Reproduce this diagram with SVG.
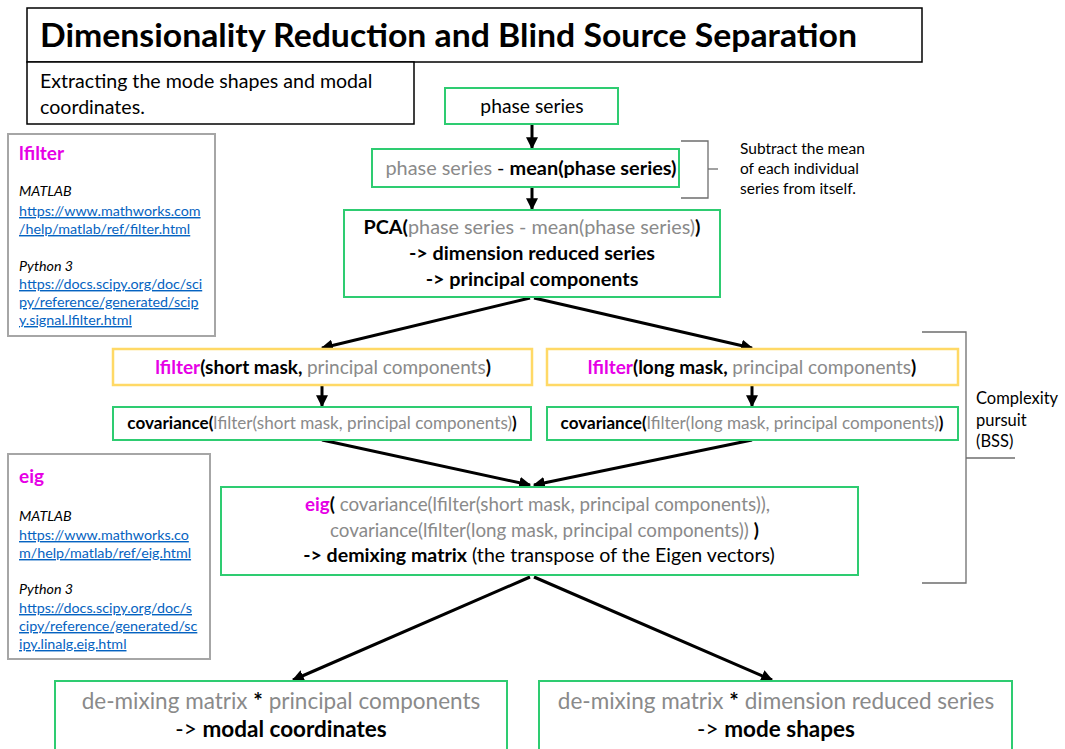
<svg xmlns="http://www.w3.org/2000/svg" width="1065" height="749" viewBox="0 0 1065 749">
  <style>
    text { font-family: Lato, "Open Sans", sans-serif; fill: #000; }
    .g { fill: #8a8a8a; }
    .b { font-weight: bold; }
    .m { fill: #e600e6; font-weight: bold; }
    .it { font-style: italic; }
    .lnk { fill: #0563c1; text-decoration: underline; }
    .boxk { fill: #fff; stroke: #000; stroke-width: 1.5; }
    .boxg { fill: #fff; stroke: #2ecc71; stroke-width: 2; }
    .boxy { fill: #fff; stroke: #ffd966; stroke-width: 2.5; }
    .boxs { fill: #fff; stroke: #a6a6a6; stroke-width: 2; }
    .edge { stroke: #000; stroke-width: 3; fill: none; marker-end: url(#ah); }
    .brk { stroke: #6e6e6e; stroke-width: 1.3; fill: none; }
  </style>
  <defs>
    <marker id="ah" viewBox="0 0 10 10" refX="9" refY="5" markerWidth="4" markerHeight="4" orient="auto" markerUnits="strokeWidth">
      <path d="M0,0 L10,5 L0,10 z" fill="#000"/>
    </marker>
  </defs>
  <rect width="1065" height="749" fill="#fff"/>

  <g id="title">
    <rect class="boxk" x="27" y="8" width="895" height="54"/>
    <text x="40" y="47" font-size="32" class="b" textLength="817" lengthAdjust="spacingAndGlyphs">Dimensionality Reduction and Blind Source Separation</text>
  </g>
  <g id="subtitle">
    <rect class="boxk" x="27" y="62" width="387" height="62"/>
    <text x="40" y="88" font-size="19.6">Extracting the mode shapes and modal</text>
    <text x="40" y="114" font-size="19.6">coordinates.</text>
  </g>

  <g id="lfilter-ref">
    <rect class="boxs" x="8" y="134" width="207" height="202"/>
    <text x="19" y="160" font-size="19" class="m">lfilter</text>
    <text x="19" y="196" font-size="14.3" class="it">MATLAB</text>
    <text x="19" y="216" font-size="14.3" class="lnk">https://www.mathworks.com</text>
    <text x="19" y="234" font-size="14.3" class="lnk">/help/matlab/ref/filter.html</text>
    <text x="19" y="271" font-size="14.3" class="it">Python 3</text>
    <text x="19" y="289" font-size="14.3" class="lnk">https://docs.scipy.org/doc/sci</text>
    <text x="19" y="307" font-size="14.3" class="lnk">py/reference/generated/scip</text>
    <text x="19" y="325" font-size="14.3" class="lnk">y.signal.lfilter.html</text>
  </g>

  <g id="eig-ref">
    <rect class="boxs" x="8" y="454" width="202" height="205"/>
    <text x="19" y="483" font-size="19" class="m">eig</text>
    <text x="19" y="521" font-size="14.3" class="it">MATLAB</text>
    <text x="19" y="540" font-size="14.3" class="lnk">https://www.mathworks.co</text>
    <text x="19" y="558" font-size="14.3" class="lnk">m/help/matlab/ref/eig.html</text>
    <text x="19" y="594" font-size="14.3" class="it">Python 3</text>
    <text x="19" y="613" font-size="14.3" class="lnk">https://docs.scipy.org/doc/s</text>
    <text x="19" y="631" font-size="14.3" class="lnk">cipy/reference/generated/sc</text>
    <text x="19" y="649" font-size="14.3" class="lnk">ipy.linalg.eig.html</text>
  </g>

  <g id="connectors">
    <line class="edge" x1="532" y1="124" x2="532" y2="148"/>
    <line class="edge" x1="532" y1="187" x2="532" y2="209"/>
    <line class="edge" x1="530" y1="298" x2="322" y2="348"/>
    <line class="edge" x1="534" y1="298" x2="752" y2="348"/>
    <line class="edge" x1="322" y1="385" x2="322" y2="406"/>
    <line class="edge" x1="752" y1="385" x2="752" y2="406"/>
    <line class="edge" x1="322" y1="440" x2="530" y2="485"/>
    <line class="edge" x1="752" y1="440" x2="534" y2="485"/>
    <line class="edge" x1="530" y1="577" x2="293" y2="680"/>
    <line class="edge" x1="534" y1="577" x2="772" y2="680"/>
  </g>

  <g id="brackets">
    <polyline class="brk" points="681,141 708,141 708,198 681,198"/>
    <line class="brk" x1="708" y1="169" x2="718" y2="169"/>
    <polyline class="brk" points="922,332 966,332 966,583 922,583"/>
    <line class="brk" x1="966" y1="458" x2="1015" y2="458"/>
  </g>

  <g id="note-mean">
    <text x="740" y="154" font-size="15.5">Subtract the mean</text>
    <text x="740" y="174" font-size="15.5">of each individual</text>
    <text x="740" y="194" font-size="15.5">series from itself.</text>
  </g>
  <g id="note-bss">
    <text x="976" y="404" font-size="16.5">Complexity</text>
    <text x="976" y="426" font-size="16.5">pursuit</text>
    <text x="976" y="447" font-size="16.5">(BSS)</text>
  </g>

  <g id="phase-series">
    <rect class="boxg" x="445" y="88" width="173" height="36"/>
    <text x="532" y="113" font-size="19.3" text-anchor="middle">phase series</text>
  </g>

  <g id="centered">
    <rect class="boxg" x="372" y="149" width="307" height="38"/>
    <text x="531" y="175" font-size="19.9" text-anchor="middle"><tspan class="g">phase series</tspan> - <tspan class="b">mean(phase series)</tspan></text>
  </g>

  <g id="pca">
    <rect class="boxg" x="344" y="210" width="376" height="87"/>
    <text x="532" y="234" font-size="19.8" text-anchor="middle"><tspan class="b">PCA(</tspan><tspan class="g">phase series - mean(phase series)</tspan><tspan class="b">)</tspan></text>
    <text x="532" y="260" font-size="19.8" text-anchor="middle" class="b">-&gt; dimension reduced series</text>
    <text x="532" y="286" font-size="19.8" text-anchor="middle" class="b">-&gt; principal components</text>
  </g>

  <g id="lfilter-short">
    <rect class="boxy" x="113" y="349" width="419" height="36"/>
    <text x="323" y="374" font-size="19" text-anchor="middle"><tspan class="m">lfilter</tspan><tspan class="b">(short mask, </tspan><tspan class="g">principal components</tspan><tspan class="b">)</tspan></text>
  </g>
  <g id="lfilter-long">
    <rect class="boxy" x="547" y="349" width="411" height="36"/>
    <text x="752" y="374" font-size="19" text-anchor="middle"><tspan class="m">lfilter</tspan><tspan class="b">(long mask, </tspan><tspan class="g">principal components</tspan><tspan class="b">)</tspan></text>
  </g>

  <g id="cov-short">
    <rect class="boxg" x="113" y="407" width="418" height="33"/>
    <text x="322" y="429" font-size="17.1" text-anchor="middle"><tspan class="b">covariance(</tspan><tspan class="g">lfilter(short mask, principal components)</tspan><tspan class="b">)</tspan></text>
  </g>
  <g id="cov-long">
    <rect class="boxg" x="547" y="407" width="411" height="33"/>
    <text x="752" y="429" font-size="17.1" text-anchor="middle"><tspan class="b">covariance(</tspan><tspan class="g">lfilter(long mask, principal components)</tspan><tspan class="b">)</tspan></text>
  </g>

  <g id="eig">
    <rect class="boxg" x="221" y="487" width="637" height="88"/>
    <text x="305" y="511" font-size="18.8"><tspan class="m">eig</tspan><tspan class="b">(</tspan><tspan class="g"> covariance(lfilter(short mask, principal components)),</tspan></text>
    <text x="330" y="537" font-size="18.8"><tspan class="g">covariance(lfilter(long mask, principal components)) </tspan><tspan class="b">)</tspan></text>
    <text x="539" y="562" font-size="19.6" text-anchor="middle"><tspan class="b">-&gt; demixing matrix</tspan> (the transpose of the Eigen vectors)</text>
  </g>

  <g id="modal-coordinates">
    <rect class="boxg" x="55" y="681" width="452" height="70"/>
    <text x="281" y="709" font-size="22.5" text-anchor="middle"><tspan class="g">de-mixing matrix </tspan><tspan class="b">*</tspan><tspan class="g"> principal components</tspan></text>
    <text x="281" y="737" font-size="22.5" text-anchor="middle">-&gt; <tspan class="b">modal coordinates</tspan></text>
  </g>
  <g id="mode-shapes">
    <rect class="boxg" x="539" y="681" width="473" height="70"/>
    <text x="776" y="709" font-size="22.5" text-anchor="middle"><tspan class="g">de-mixing matrix </tspan><tspan class="b">*</tspan><tspan class="g"> dimension reduced series</tspan></text>
    <text x="776" y="737" font-size="22.5" text-anchor="middle">-&gt; <tspan class="b">mode shapes</tspan></text>
  </g>
</svg>
